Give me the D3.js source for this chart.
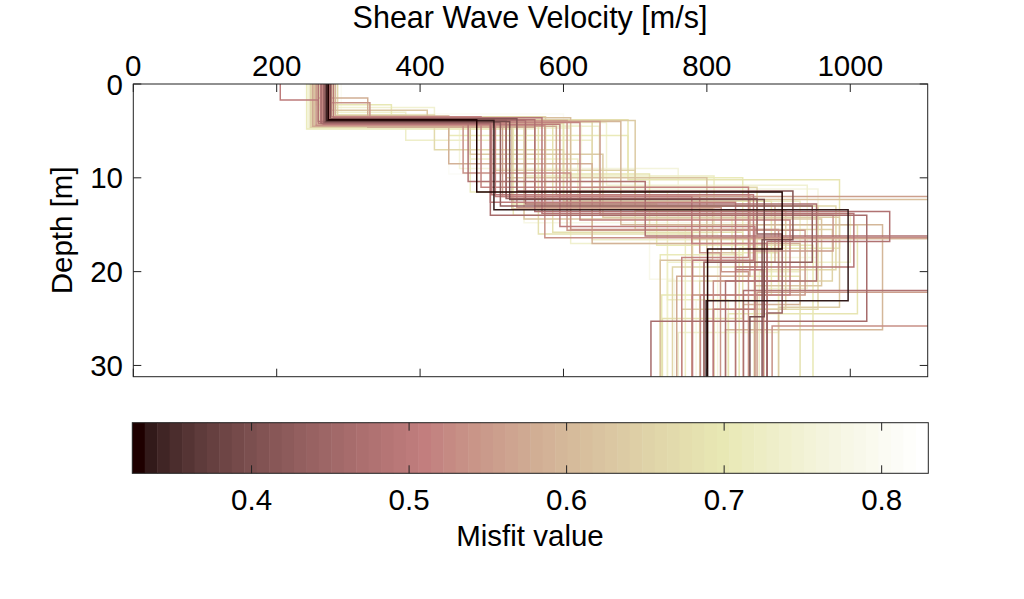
<!DOCTYPE html>
<html>
<head>
<meta charset="utf-8">
<script src="https://cdn.jsdelivr.net/npm/d3@7"></script>
<style>
  html, body { margin: 0; padding: 0; background: #fff; }
  svg { display: block; font-family: "Liberation Sans", Arial, Helvetica, sans-serif; }
</style>
</head>
<body>
<svg id="chart" width="1024" height="599"></svg>
<script>
// ---------------- data ----------------
const xTicks = [0, 200, 400, 600, 800, 1000];
const yTicks = [0, 10, 20, 30];
const cbTicks = [0.4, 0.5, 0.6, 0.7, 0.8];
const velocityDomain = [0, 1108];
const depthDomain = [0, 31.2];
const misfitDomain = [0.3243, 0.8296];

// misfit value of every profile
const misfits = [
  0.326, 0.334, 0.39, 0.41, 0.43,
  0.46, 0.47, 0.48, 0.49, 0.50, 0.51, 0.52, 0.52, 0.53, 0.54, 0.54, 0.55, 0.55, 0.50, 0.53, 0.48, 0.50,
  0.57, 0.58, 0.59, 0.60, 0.61, 0.62, 0.63, 0.64,
  0.65, 0.66, 0.67, 0.68, 0.69, 0.70, 0.71, 0.72, 0.72, 0.73, 0.74, 0.74, 0.75, 0.70, 0.68, 0.76, 0.66, 0.77, 0.78, 0.79,
  0.80, 0.81,
  0.71, 0.69, 0.75, 0.64, 0.56, 0.73, 0.62, 0.44
];
// layer interface depths [m] of every profile
const interfaceDepths = [
  [3.8, 11.5, 17.6], [3.9, 13.4, 23.1], [4.0, 12.3, 24.8], [3.7, 11.4, 16.6], [4.1, 13.0, 19.0],
  [4.2, 14.0, 25.3], [3.9, 12.8, 21.0], [4.0, 10.4, 16.2, 22.0], [3.6, 13.8, 19.5], [4.3, 15.2, 24.0],
  [3.8, 12.0, 17.0], [4.1, 14.5, 22.5], [3.5, 11.0, 18.5], [4.4, 16.4, 25.8], [4.0, 13.2, 20.0],
  [2.0, 4.2, 12.0, 18.0], [3.9, 15.6, 22.5], [4.0, 14.0, 17.8], [3.7, 12.6, 19.8], [4.2, 9.5, 15.5, 21.0],
  [3.8, 13.6, 16.8], [1.7, 4.2, 11.8, 18.8],
  [4.5, 11.8, 20.5], [1.5, 4.6, 13.0, 19.0], [3.4, 8.5, 17.0, 23.5], [4.0, 15.0, 26.2], [3.6, 12.3, 16.5],
  [4.4, 10.0, 18.0], [2.8, 4.4, 14.4, 21.5], [3.9, 13.5, 24.0],
  [4.6, 9.2, 15.5, 21.0], [4.0, 11.0, 19.5], [3.3, 7.0, 13.0, 24.0], [4.5, 16.0, 20.5], [3.8, 10.2, 17.5],
  [2.2, 4.2, 12.5, 22.5], [4.8, 14.0, 18.0], [4.0, 9.8, 15.0], [3.6, 11.5, 23.0], [4.2, 8.0, 12.5, 20.0],
  [4.7, 17.0, 26.5], [3.0, 4.5, 13.8, 19.0], [4.1, 10.8, 21.8], [3.9, 12.8, 17.2], [4.3, 15.8, 25.0],
  [4.0, 9.0, 16.0], [3.5, 13.0, 19.8], [4.4, 11.2, 18.5], [3.7, 14.8, 23.0], [4.6, 10.5, 20.8],
  [3.2, 12.0, 17.5], [4.8, 9.6, 14.0],
  [3.6, 5.5, 10.0, 18.2], [4.2, 9.6, 15.0, 24.5], [2.5, 4.8, 11.5, 21.0], [4.0, 7.5, 14.2, 23.8],
  [4.1, 12.0, 22.2], [3.3, 6.0, 16.6], [4.5, 13.3, 18.8], [3.9, 12.2, 16.0, 24.4]
];
// shear wave velocity [m/s] of every layer (last = half-space)
const layerVelocities = [
  [272, 479, 905, 801], [270, 503, 997, 799], [268, 525, 880, 860], [275, 535, 920, 877], [266, 512, 947, 796],
  [262, 498, 1023, 722], [270, 547, 953, 826], [258, 467, 714, 1150, 851], [279, 570, 1005, 840], [265, 595, 867, 809],
  [273, 505, 779, 884], [261, 623, 916, 791], [276, 485, 858, 765], [255, 574, 1130, 891], [269, 535, 820, 858],
  [262, 330, 520, 790, 819], [267, 605, 937, 779], [272, 651, 976, 867], [271, 498, 840, 879], [264, 460, 610, 900, 809],
  [274, 560, 1055, 884], [205, 258, 500, 865, 780],
  [250, 590, 860, 758], [258, 327, 560, 895, 796], [282, 440, 640, 930, 851], [266, 680, 1045, 826], [276, 610, 1120, 779],
  [253, 520, 800, 840], [261, 410, 545, 960, 867], [270, 700, 910, 765],
  [247, 505, 700, 975, 790], [268, 640, 870, 752], [285, 420, 600, 955, 810], [249, 565, 780, 930], [275, 690, 985, 845],
  [255, 360, 600, 890, 737], [242, 530, 835, 900], [263, 548, 810, 770], [278, 470, 745, 830], [260, 470, 620, 930, 873],
  [245, 610, 900, 760], [270, 380, 650, 1000, 745], [267, 660, 940, 880], [272, 530, 730, 948], [257, 585, 850, 738],
  [265, 455, 760, 815], [280, 575, 980, 866], [254, 625, 955, 800], [276, 545, 870, 785], [248, 480, 720, 755],
  [290, 600, 900, 850], [240, 440, 700, 780],
  [262, 440, 690, 850, 735], [258, 600, 720, 1010, 830], [268, 420, 560, 790, 745], [271, 470, 655, 985, 900],
  [263, 515, 1110, 870], [275, 380, 640, 880], [251, 528, 808, 735], [270, 520, 870, 905, 884]
];

// ---------------- layout ----------------
const W = 1024, H = 599;
const plot = { left: 133.3, right: 927.7, top: 84, bottom: 376.7 };
const cb = { left: 132.3, right: 928.3, top: 422.7, bottom: 473.3 };

const svg = d3.select("#chart");
svg.append("rect").attr("width", W).attr("height", H).attr("fill", "#fff");

const x = d3.scaleLinear().domain(velocityDomain).range([plot.left, plot.right]);
const y = d3.scaleLinear().domain(depthDomain).range([plot.top, plot.bottom]);
const cbx = d3.scaleLinear().domain(misfitDomain).range([cb.left, cb.right]);

// MATLAB "pink" colormap, 64 entries
const M = 64;
const pinkMap = d3.range(M).map(k => {
  const i = k + 1, n = Math.floor(3 / 8 * M);
  const r = i <= n ? i / n : 1;
  const g = i <= n ? 0 : (i <= 2 * n ? (i - n) / n : 1);
  const b = i <= 2 * n ? 0 : (i - 2 * n) / (M - 2 * n);
  const gr = (i - 1) / (M - 1);
  const f = v => Math.round(255 * Math.sqrt((2 * gr + v) / 3));
  return `rgb(${f(r)},${f(g)},${f(b)})`;
});
function colorOf(m) {
  const t = (m - misfitDomain[0]) / (misfitDomain[1] - misfitDomain[0]);
  const idx = Math.max(0, Math.min(M - 1, Math.floor(t * M)));
  return pinkMap[idx];
}

// ---------------- profiles ----------------
svg.append("clipPath").attr("id", "clip")
  .append("rect").attr("x", plot.left).attr("y", plot.top)
  .attr("width", plot.right - plot.left).attr("height", plot.bottom - plot.top);

const profiles = misfits.map((m, i) => {
  const d = interfaceDepths[i], v = layerVelocities[i];
  const pts = [[v[0], 0]];
  d.forEach((dep, j) => { pts.push([v[j], dep]); pts.push([v[j + 1], dep]); });
  pts.push([v[v.length - 1], depthDomain[1]]);
  return { misfit: m, pts };
}).sort((a, b) => b.misfit - a.misfit);

const line = d3.line().x(p => x(p[0])).y(p => y(p[1]));
svg.append("g").attr("clip-path", "url(#clip)")
  .selectAll("path").data(profiles).join("path")
  .attr("d", p => line(p.pts))
  .attr("fill", "none")
  .attr("stroke", p => colorOf(p.misfit))
  .attr("stroke-width", 1.5);

// ---------------- axes ----------------
const tickLen = 8;
const axisG = svg.append("g").attr("stroke", "#222").attr("stroke-width", 1);
axisG.append("rect").attr("x", plot.left).attr("y", plot.top)
  .attr("width", plot.right - plot.left).attr("height", plot.bottom - plot.top)
  .attr("fill", "none");
xTicks.forEach(t => {
  axisG.append("line").attr("x1", x(t)).attr("x2", x(t)).attr("y1", plot.top).attr("y2", plot.top + tickLen);
  axisG.append("line").attr("x1", x(t)).attr("x2", x(t)).attr("y1", plot.bottom).attr("y2", plot.bottom - tickLen);
});
yTicks.forEach(t => {
  axisG.append("line").attr("y1", y(t)).attr("y2", y(t)).attr("x1", plot.left).attr("x2", plot.left + tickLen);
  axisG.append("line").attr("y1", y(t)).attr("y2", y(t)).attr("x1", plot.right).attr("x2", plot.right - tickLen);
});

const fs = 29.5;
svg.append("g").selectAll("text").data(xTicks).join("text")
  .attr("x", d => x(d)).attr("y", 76).attr("text-anchor", "middle")
  .attr("font-size", fs).attr("fill", "#000").text(d => d);
svg.append("g").selectAll("text").data(yTicks).join("text")
  .attr("x", 123).attr("y", d => y(d)).attr("dy", "0.36em").attr("text-anchor", "end")
  .attr("font-size", fs).attr("fill", "#000").text(d => d);

svg.append("text").attr("x", 530).attr("y", 27.5).attr("text-anchor", "middle")
  .attr("font-size", 30.5).attr("fill", "#000").text("Shear Wave Velocity [m/s]");
svg.append("text").attr("transform", `translate(71.5,${(plot.top + plot.bottom) / 2}) rotate(-90)`)
  .attr("text-anchor", "middle").attr("font-size", fs).attr("fill", "#000").text("Depth [m]");

// ---------------- colorbar ----------------
const step = (misfitDomain[1] - misfitDomain[0]) / M;
svg.append("g").selectAll("rect").data(pinkMap).join("rect")
  .attr("x", (c, i) => cbx(misfitDomain[0] + i * step))
  .attr("width", (c, i) => cbx(misfitDomain[0] + (i + 1) * step) - cbx(misfitDomain[0] + i * step) + 0.5)
  .attr("y", cb.top).attr("height", cb.bottom - cb.top)
  .attr("fill", c => c);
const cbG = svg.append("g").attr("stroke", "#222").attr("stroke-width", 1);
cbG.append("rect").attr("x", cb.left).attr("y", cb.top)
  .attr("width", cb.right - cb.left).attr("height", cb.bottom - cb.top).attr("fill", "none");
cbTicks.forEach(t => {
  cbG.append("line").attr("x1", cbx(t)).attr("x2", cbx(t)).attr("y1", cb.top).attr("y2", cb.top + tickLen);
  cbG.append("line").attr("x1", cbx(t)).attr("x2", cbx(t)).attr("y1", cb.bottom).attr("y2", cb.bottom - tickLen);
});
svg.append("g").selectAll("text").data(cbTicks).join("text")
  .attr("x", d => cbx(d)).attr("y", 510).attr("text-anchor", "middle")
  .attr("font-size", fs).attr("fill", "#000").text(d => d.toFixed(1));
svg.append("text").attr("x", 530).attr("y", 546).attr("text-anchor", "middle")
  .attr("font-size", fs).attr("fill", "#000").text("Misfit value");
</script>
</body>
</html>
